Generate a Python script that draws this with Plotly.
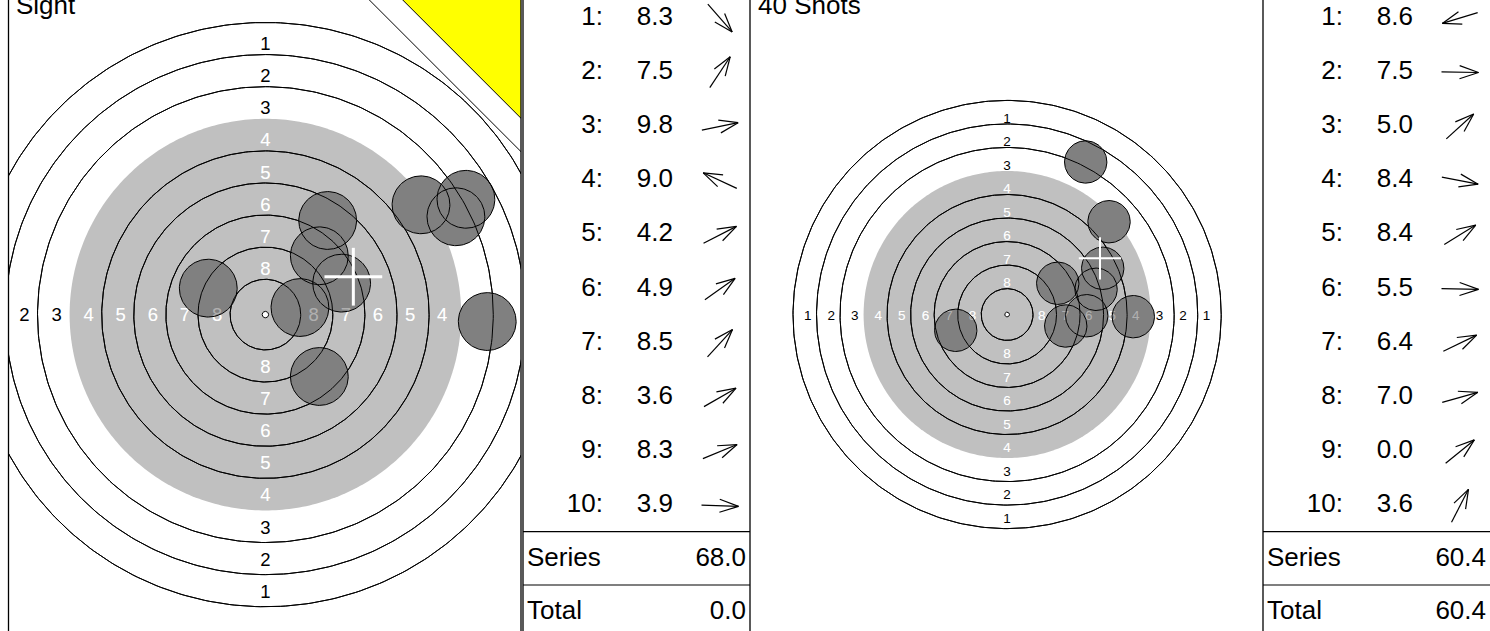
import math
import plotly.graph_objects as go

# ---------------- data ----------------
ring_values = [1, 2, 3, 4, 5, 6, 7, 8, 9, 10]
ring_radius_mm = [22.75, 20.25, 17.75, 15.25, 12.75, 10.25, 7.75, 5.25, 2.75, 0.25]
aim_radius_mm = 15.25          # grey aiming area (rings 4..9)
pellet_radius_mm = 2.25
label_rings = [1, 2, 3, 4, 5, 6, 7, 8]

shot_numbers = [1, 2, 3, 4, 5, 6, 7, 8, 9, 10]

sight_title = "Sight"
sight_scores = [8.3, 7.5, 9.8, 9.0, 4.2, 4.9, 8.5, 3.6, 8.3, 3.9]
sight_x_mm = [4.20, 4.85, 2.69, -4.45, 14.84, 12.12, 4.20, 15.62, 5.94, 17.28]
sight_y_mm = [-4.82, 7.33, 0.55, 2.06, 7.62, 8.55, 4.58, 8.98, 2.45, -0.54]
sight_series = 68.0
sight_total = 0.0
sight_cross_mm = [6.85, 2.95]
sighter_edge_mm = [35.2, 32.6]   # x+y of the yellow corner edge and of the line next to it

match_title = "40 Shots"
match_scores = [8.6, 7.5, 5.0, 8.4, 8.4, 5.5, 6.4, 7.0, 0.0, 3.6]
match_x_mm = [-5.46, 8.46, 10.83, 6.23, 5.38, 13.41, 10.16, 9.45, 31.9, 8.35]
match_y_mm = [-1.68, -0.13, 9.86, -1.22, 3.32, -0.23, 4.91, 2.68, 26.0, 16.21]
match_series = 60.4
match_total = 60.4
match_cross_mm = [9.87, 5.97]

# ---------------- layout constants ----------------
W, H = 1490, 631
FONT = "Liberation Sans, Arial, Helvetica, sans-serif"
GREY = "#c0c0c0"
SHOT_FILL = "#808080"
TXT = 26

fig = go.Figure()
shapes = []
annotations = []


def circle_xy(cx, cy, r, n=361):
    xs, ys = [], []
    for k in range(n):
        t = 2 * math.pi * k / (n - 1)
        xs.append(cx + r * math.cos(t))
        ys.append(cy + r * math.sin(t))
    return xs, ys


def add(tr, xr, yr):
    tr.update(xaxis=xr, yaxis=yr, hoverinfo="skip", showlegend=False)
    fig.add_trace(tr)


def target(ax, s, label_px, cross_w, xs, ys, cross):
    xr = "x" if ax == 1 else "x%d" % ax
    yr = "y" if ax == 1 else "y%d" % ax
    # grey aiming disk
    gx, gy = circle_xy(0, 0, aim_radius_mm)
    add(go.Scatter(x=gx, y=gy, mode="none", fill="toself", fillcolor=GREY), xr, yr)
    # ring lines
    rx, ry = [], []
    for v, r in zip(ring_values, ring_radius_mm):
        if r == aim_radius_mm or v == 10:
            continue
        cx_, cy_ = circle_xy(0, 0, r)
        rx += cx_ + [None]
        ry += cy_ + [None]
    ring_line = go.Scatter(x=rx, y=ry, mode="lines", line=dict(color="black", width=1))
    add(ring_line, xr, yr)
    dx_, dy_ = circle_xy(0, 0, ring_radius_mm[ring_values.index(10)], 41)
    add(go.Scatter(x=dx_, y=dy_, mode="lines", fill="toself", fillcolor="white",
                   line=dict(color="black", width=1)), xr, yr)
    # ring labels
    tx, ty, tt, tc = [], [], [], []
    wx, wy, wt = [], [], []
    for v in label_rings:
        i = ring_values.index(v)
        mid = (ring_radius_mm[i] + ring_radius_mm[i + 1]) / 2
        col = "black" if ring_radius_mm[i] > aim_radius_mm else "white"
        pos = [(0, mid - 7.0 / s), (0, -mid - 2.5 / s),
               (-(mid - 3.0 / s), -2.0 / s), (mid - 3.0 / s, -2.0 / s)]
        for px, py in pos:
            tx.append(px)
            ty.append(py)
            tt.append(str(v))
            tc.append(col)
            if col == "white":
                wx.append(px)
                wy.append(py)
                wt.append(str(v))
    add(go.Scatter(x=tx, y=ty, text=tt, mode="text", textposition="middle center",
                   cliponaxis=True, textfont=dict(family=FONT, size=label_px, color=tc)), xr, yr)
    # shots (opaque fill)
    for x, y in zip(xs, ys):
        sx, sy = circle_xy(x, y, pellet_radius_mm, 121)
        add(go.Scatter(x=sx, y=sy, mode="none", fill="toself", fillcolor=SHOT_FILL), xr, yr)
    # ring lines and white labels showing through the shots
    add(go.Scatter(x=rx, y=ry, mode="lines", line=dict(color="black", width=1)), xr, yr)
    add(go.Scatter(x=wx, y=wy, text=wt, mode="text", textposition="middle center",
                   cliponaxis=True,
                   textfont=dict(family=FONT, size=label_px, color="rgba(255,255,255,0.4)")),
        xr, yr)
    # shot outlines
    ox, oy = [], []
    for x, y in zip(xs, ys):
        sx, sy = circle_xy(x, y, pellet_radius_mm, 121)
        ox += sx + [None]
        oy += sy + [None]
    add(go.Scatter(x=ox, y=oy, mode="lines", line=dict(color="black", width=1)), xr, yr)
    # centre-of-group cross
    cx, cy = cross
    add(go.Scatter(x=[cx - pellet_radius_mm, cx + pellet_radius_mm, None, cx, cx],
                   y=[cy, cy, None, cy - pellet_radius_mm, cy + pellet_radius_mm],
                   mode="lines", line=dict(color="white", width=cross_w)), xr, yr)


# yellow sighter corner (left panel only)
c1, c2 = sighter_edge_mm
add(go.Scatter(x=[c1 - 40, 40, 40, c1 - 40], y=[40, c1 - 40, 40, 40], fill="toself",
               fillcolor="#ffff00", mode="lines", line=dict(color="black", width=1)), "x", "y")
add(go.Scatter(x=[c2 - 40, 40], y=[40, c2 - 40], mode="lines",
               line=dict(color="black", width=1)), "x", "y")

target(1, 12.84, 18.5, 3, sight_x_mm, sight_y_mm, sight_cross_mm)
target(2, 9.41, 13.5, 2, match_x_mm, match_y_mm, match_cross_mm)


def table(ax, scores, xs, ys, series, total):
    xr, yr = "x%d" % ax, "y%d" % ax
    row0, step = 18.0, 54.2
    ry = [row0 + i * step for i in range(len(shot_numbers))]
    tf = dict(family=FONT, size=TXT, color="black")
    add(go.Scatter(x=[80] * len(ry), y=ry, text=["%d:" % n for n in shot_numbers],
                   mode="text", textposition="middle left", textfont=tf), xr, yr)
    add(go.Scatter(x=[150] * len(ry), y=ry, text=["%.1f" % v for v in scores],
                   mode="text", textposition="middle left", textfont=tf), xr, yr)
    L, h, a = 37.0, 20.0, math.radians(19)
    axs, ays = [], []
    for x, y, yc in zip(xs, ys, ry):
        t = math.atan2(y, x)
        ux, uy = math.cos(t), -math.sin(t)
        cx = 197.0
        tipx, tipy = cx + ux * L / 2, yc + uy * L / 2
        axs += [cx - ux * L / 2, tipx, None]
        ays += [yc - uy * L / 2, tipy, None]
        for sg in (a, -a):
            bx = -(ux * math.cos(sg) - uy * math.sin(sg))
            by = -(ux * math.sin(sg) + uy * math.cos(sg))
            axs += [tipx, tipx + bx * h, None]
            ays += [tipy, tipy + by * h, None]
    add(go.Scatter(x=axs, y=ays, mode="lines", line=dict(color="black", width=1.2)), xr, yr)
    add(go.Scatter(x=[4, 4], y=[559, 612], text=["Series", "Total"],
                   mode="text", textposition="middle right", textfont=tf), xr, yr)
    add(go.Scatter(x=[223, 223], y=[559, 612], text=["%.1f" % series, "%.1f" % total],
                   mode="text", textposition="middle left", textfont=tf), xr, yr)
    for yy in (531.7, 585.0):
        shapes.append(dict(type="line", xref=xr, yref=yr, x0=0, x1=227, y0=yy, y1=yy,
                           line=dict(color="black", width=1.2)))


table(3, sight_scores, sight_x_mm, sight_y_mm, sight_series, sight_total)
table(4, match_scores, match_x_mm, match_y_mm, match_series, match_total)

for px in (8.5, 521, 523, 750, 1263):
    shapes.append(dict(type="line", xref="paper", yref="paper", x0=px / W, x1=px / W, y0=0, y1=1,
                       line=dict(color="black", width=1.3)))

annotations.append(dict(text=sight_title, xref="paper", yref="paper", x=14 / W, y=1 - 5.5 / H,
                        xanchor="left", yanchor="middle", showarrow=False,
                        font=dict(family=FONT, size=TXT, color="black")))
annotations.append(dict(text=match_title, xref="paper", yref="paper", x=756 / W, y=1 - 5.5 / H,
                        xanchor="left", yanchor="middle", showarrow=False,
                        font=dict(family=FONT, size=TXT, color="black")))

hidden = dict(visible=False, fixedrange=True)
fig.update_layout(
    width=W, height=H, margin=dict(l=0, r=0, t=0, b=0),
    paper_bgcolor="white", plot_bgcolor="white", showlegend=False, hovermode=False,
    shapes=shapes, annotations=annotations,
    xaxis=dict(domain=[8 / W, 521 / W], range=[-20.05, 19.91], **hidden),
    yaxis=dict(domain=[0, 1], range=[-24.64, 24.50], **hidden),
    xaxis2=dict(domain=[750 / W, 1263 / W], range=[-27.32, 27.19], **hidden),
    yaxis2=dict(domain=[0, 1], range=[-33.63, 33.42], **hidden),
    xaxis3=dict(domain=[523 / W, 750 / W], range=[0, 227], **hidden),
    yaxis3=dict(domain=[0, 1], range=[631, 0], **hidden),
    xaxis4=dict(domain=[1263 / W, 1.0], range=[0, 227], **hidden),
    yaxis4=dict(domain=[0, 1], range=[631, 0], **hidden),
)

fig.write_html("out.html", config={"displayModeBar": False},
               post_script="document.body.style.margin='0';")
